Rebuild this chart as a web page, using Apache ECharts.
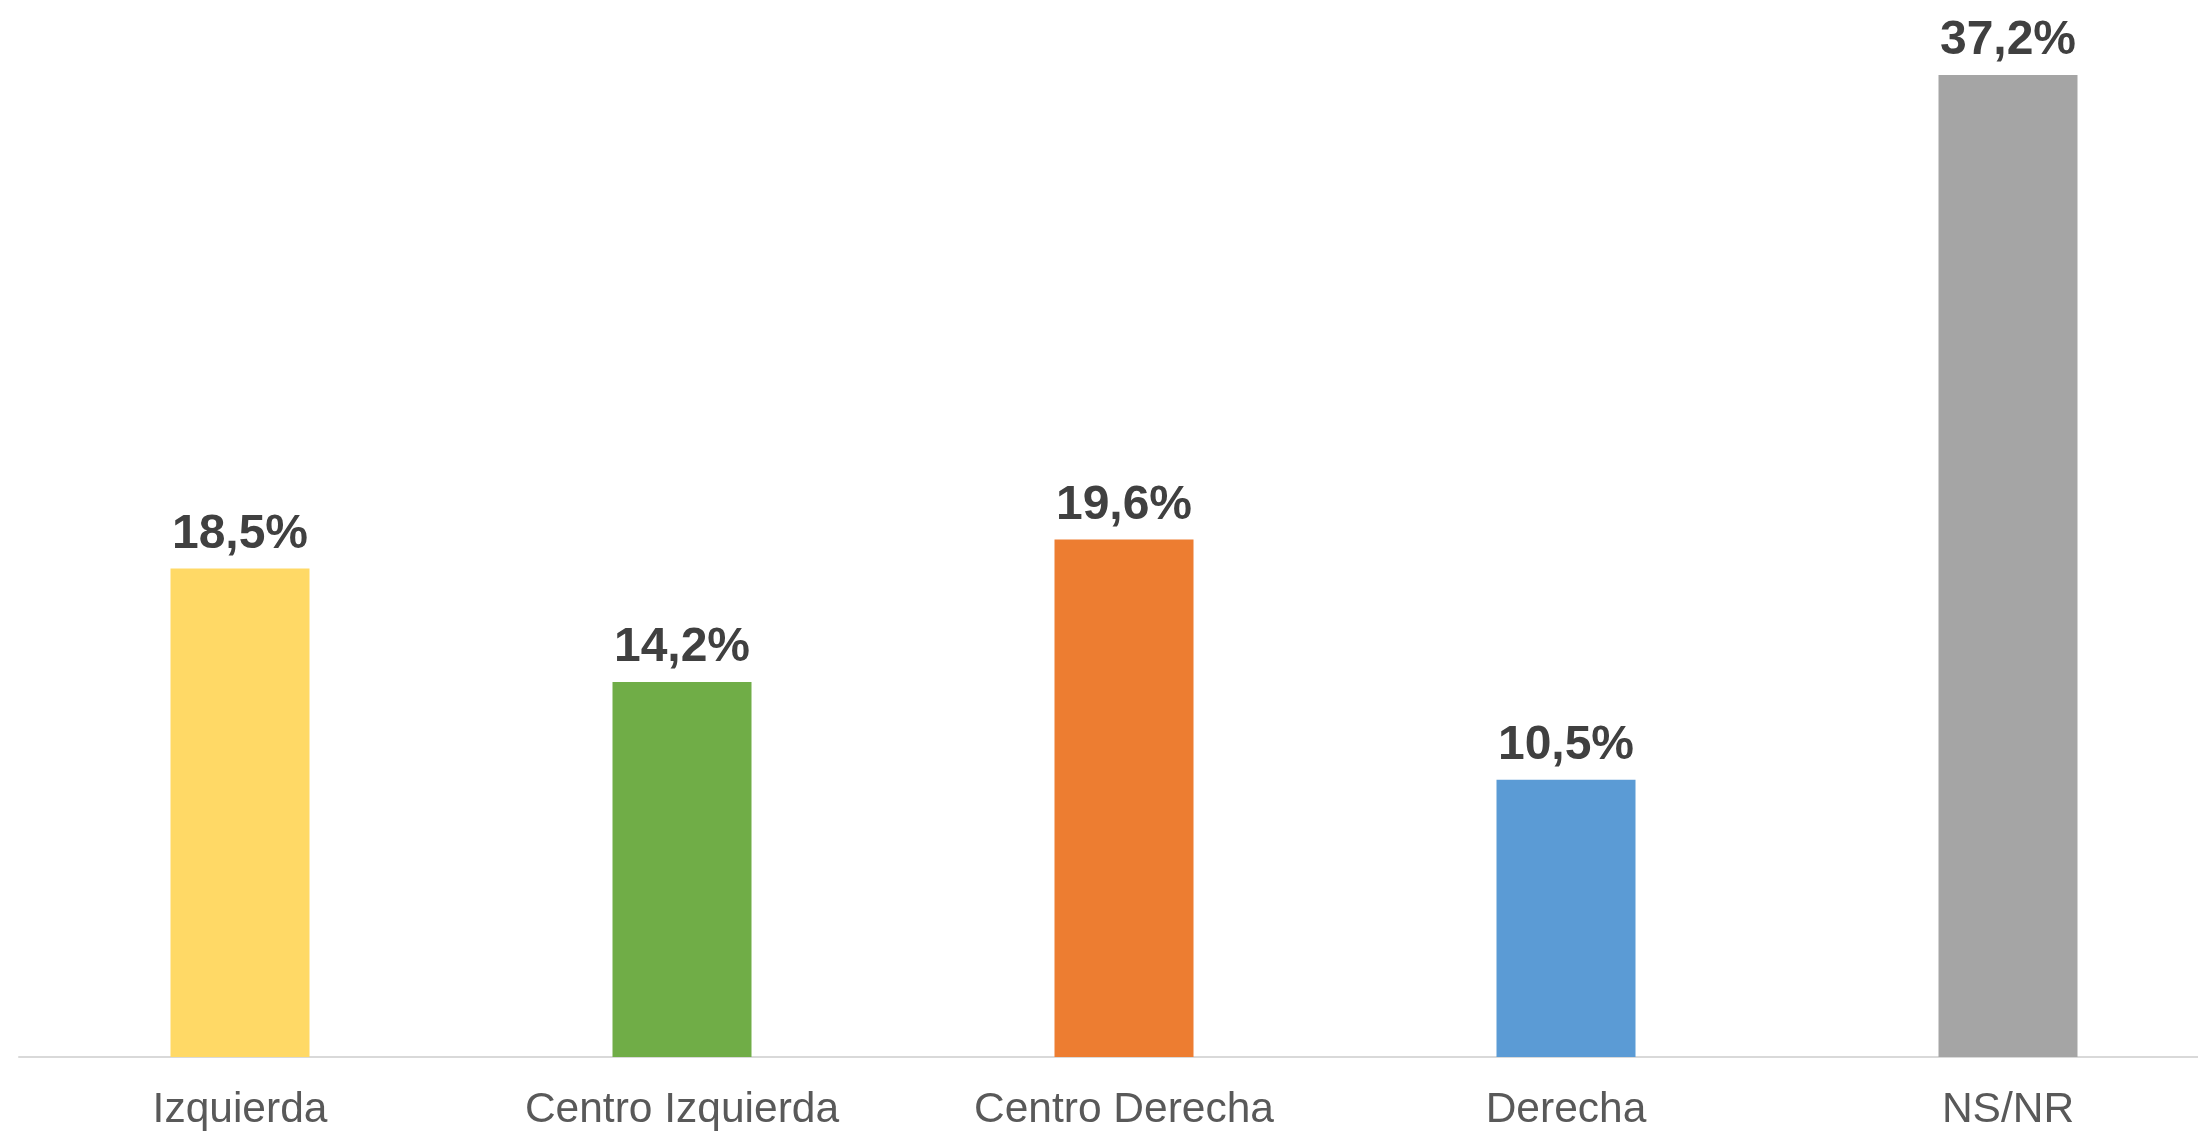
<!DOCTYPE html>
<html>
<head>
<meta charset="utf-8">
<script src="https://cdn.jsdelivr.net/npm/echarts@6/dist/echarts.min.js"></script>
<style>
  html, body { margin: 0; padding: 0; background: #fff; overflow: hidden; }
  /* el gráfico original se corta por la derecha */
  #chart { width: 2229px; height: 1132px; }
</style>
</head>
<body>
<div id="chart"></div>
<script>
  // datos
  const categories = ['Izquierda', 'Centro Izquierda', 'Centro Derecha', 'Derecha', 'NS/NR'];
  const values = [18.5, 14.2, 19.6, 10.5, 37.2];
  const barColors = ['#FFD966', '#70AD47', '#ED7D31', '#5B9BD5', '#A5A5A5'];

  const chart = echarts.init(document.getElementById('chart'));
  chart.setOption({
    animation: false,
    grid: {
      left: 19,
      right: 0,
      top: 1,
      bottom: 72,
      containLabel: false,
    },
    xAxis: {
      type: 'category',
      data: categories,
      axisLine: { lineStyle: { color: '#D9D9D9', width: 2 } },
      axisTick: { show: false },
      axisLabel: {
        color: '#595959',
        fontFamily: 'Liberation Sans, Arial, sans-serif',
        fontSize: 42.5,
        margin: 32,
        interval: 0,
      },
    },
    yAxis: {
      type: 'value',
      min: 0,
      max: 40,
      show: false,
      splitLine: { show: false },
    },
    series: [
      {
        type: 'bar',
        barWidth: 139,
        data: values.map((v, i) => ({ value: v, itemStyle: { color: barColors[i] } })),
        label: {
          show: true,
          position: 'top',
          distance: 10,
          color: '#404040',
          fontFamily: 'Liberation Sans, Arial, sans-serif',
          fontWeight: 'bold',
          fontSize: 48,
          formatter: (p) => p.value.toFixed(1).replace('.', ',') + '%',
        },
      },
    ],
  });
</script>
</body>
</html>
